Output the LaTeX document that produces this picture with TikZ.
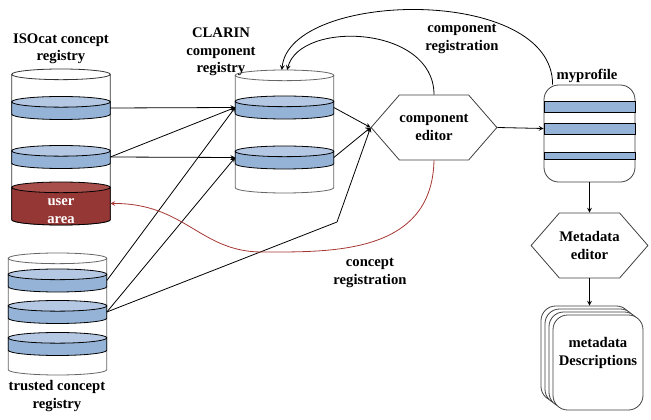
\documentclass[tikz,border=0pt]{standalone}
\usepackage{fontspec}
\setmainfont{Liberation Serif}
\usetikzlibrary{shapes.geometric,shapes.symbols,arrows,positioning}
\definecolor{bandbody}{RGB}{149,179,215}
\definecolor{bandtop}{RGB}{180,200,228}
\definecolor{userbody}{RGB}{149,55,53}
\definecolor{usertop}{RGB}{168,78,75}
\definecolor{regred}{RGB}{165,55,50}

% drum drawn on a named node: node, body colour, top colour, line colour
\newcommand{\drum}[4]{%
  \fill[#2] ([yshift=-4pt]#1.north west) -- ([yshift=4pt]#1.south west)
    arc[start angle=180, end angle=360, x radius=37pt, y radius=4pt]
    -- ([yshift=-4pt]#1.north east) -- cycle;
  \fill[#3] ([yshift=-4pt]#1.north) ellipse [x radius=37pt, y radius=4pt];
  \draw[#4, semithick] ([yshift=-4pt]#1.north west) -- ([yshift=4pt]#1.south west)
    arc[start angle=180, end angle=360, x radius=37pt, y radius=4pt]
    -- ([yshift=-4pt]#1.north east);
  \draw[#4, semithick] ([yshift=-4pt]#1.north) ellipse [x radius=37pt, y radius=4pt];
}

\begin{document}
\begin{tikzpicture}[
    x=0.75pt, y=-0.75pt,
    lbl/.style={font=\bfseries\fontsize{11}{13}\selectfont, align=center, inner sep=0pt},
    store/.style={rectangle, minimum width=74pt, inner sep=0pt, outer sep=0pt},
    disc/.style={rectangle, minimum width=74pt, minimum height=17.25pt, inner sep=0pt, outer sep=0pt},
    edit/.style={signal, signal to=east and west, signal pointer angle=98, draw=black!75, fill=white, minimum width=87pt, minimum height=48.75pt, inner sep=0pt, semithick},
    pband/.style={rectangle, draw=black, fill=bandbody, minimum width=68.25pt, inner sep=0pt, semithick},
    doc/.style={rectangle, draw=black!75, fill=white, rounded corners=11pt, minimum width=67.5pt, minimum height=71.25pt, inner sep=0pt, semithick},
    arrow/.style={->, >=stealth, semithick}
]
\useasboundingbox (0,0) rectangle (651,420);

% ISOcat concept registry
\node[store, minimum height=117pt] (iso) at (61,147) {};
\node[disc] (iso1) at (61,108) {};
\node[disc] (iso2) at (61,157) {};
\node[disc, minimum height=32.25pt] (usr) at (61,203.5) {};
\drum{iso}{white}{white}{black!80}
\drum{iso1}{bandbody}{bandtop}{black}
\drum{iso2}{bandbody}{bandtop}{black}
\drum{usr}{userbody}{usertop}{black}
\node[lbl, text=white] (usrtxt) at (61,211) {user\\area};
\node[lbl] (isolbl) at (61,49) {ISOcat concept\\registry};

% CLARIN component registry
\node[store, minimum height=92.25pt] (cla) at (284.5,131.5) {};
\node[disc] (cla1) at (284.5,107.5) {};
\node[disc] (cla2) at (284.5,157.5) {};
\drum{cla}{white}{white}{black!60}
\drum{cla1}{bandbody}{bandtop}{black}
\drum{cla2}{bandbody}{bandtop}{black}
\node[lbl] (clalbl) at (221,52) {CLARIN\\component\\registry};

% trusted concept registry
\node[store, minimum height=91.5pt] (tru) at (57.5,314) {};
\node[disc] (tru1) at (57.5,280.5) {};
\node[disc] (tru2) at (57.5,312) {};
\node[disc] (tru3) at (57.5,344) {};
\drum{tru}{white}{white}{black!60}
\drum{tru1}{bandbody}{bandtop}{black}
\drum{tru2}{bandbody}{bandtop}{black}
\drum{tru3}{bandbody}{bandtop}{black}
\node[lbl] (trulbl) at (57,396) {trusted concept\\registry};

% editors
\node[edit, lbl] (ced) at (434,127.5) {component\\editor};
\node[edit, lbl] (med) at (589.5,245.5) {Metadata\\editor};

% myprofile
\node[rectangle, draw=black!75, fill=white, rounded corners=11pt, minimum width=68.25pt, minimum height=72.75pt, semithick] (myp) at (589.5,133.5) {};
\node[pband, minimum height=8.25pt] (myp1) at (589.5,106.5) {};
\node[pband, minimum height=8.25pt] (myp2) at (589.5,128.5) {};
\node[pband, minimum height=5.25pt] (myp3) at (589.5,155.5) {};
\node[lbl] (myplbl) at (587,76) {myprofile};

% metadata descriptions
\node[doc] (mdd3) at (586,353.5) {};
\node[doc] (mdd2) at (590,356.5) {};
\node[doc] (mdd1) at (594,359.5) {};
\node[doc] (mdd) at (598,362.5) {};
\node[lbl] (mddtxt) at (598,353) {metadata\\Descriptions};

% texts on the connectors
\node[lbl] (creg) at (462,39) {component\\registration};
\node[lbl] (kreg) at (370,273) {concept\\registration};

\coordinate (bend) at (337,222);

\draw[arrow] (iso1.east) -- (cla1.west);
\draw[arrow] (iso2.east) -- (cla1.west);
\draw[arrow] (iso2.east) -- (cla2.west);
\draw[arrow] (tru1.east) -- (cla1.west);
\draw[arrow] (tru2.east) -- (cla2.west);
\draw[arrow] (tru2.east) -- (bend) -- (ced.west);
\draw[arrow] (cla1.east) -- (ced.west);
\draw[arrow] (cla2.east) -- (ced.west);
\draw[arrow] (ced.east) -- (myp2.west);
\draw[arrow] (myp.south) -- (med.north);
\draw[arrow] (med.south) -- (med.south |- mdd3.north);
\draw[arrow, draw=regred] (ced.south) .. controls (432,255) and (330,252) .. (262,252) .. controls (200,252) and (185,203) .. (usr.east);
\draw[arrow] ([xshift=6.75pt]myp.north west) .. controls (553,-15) and (290,-10) .. ([xshift=-2pt]cla.north);
\draw[arrow] (ced.north) .. controls (434,25) and (300,20) .. ([xshift=2pt]cla.north);
\end{tikzpicture}
\end{document}
